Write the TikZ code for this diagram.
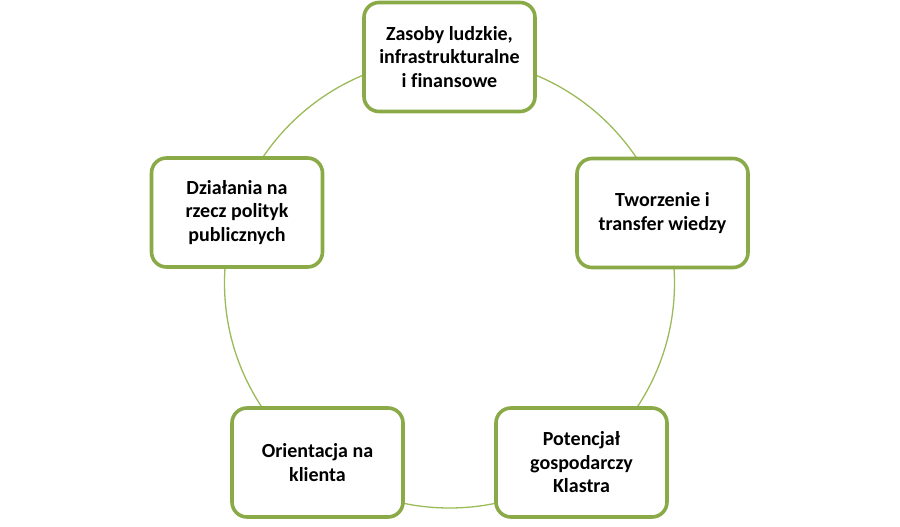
\documentclass[tikz,border=0pt]{standalone}
\usepackage{fontspec}
\setmainfont{Carlito}[Ligatures=NoCommon]
\definecolor{boxgreen}{HTML}{8AAA48}
\definecolor{ringgreen}{HTML}{9BBB59}
\begin{document}
\begin{tikzpicture}[x=1pt,y=-1pt,
  cyclebox/.style={draw=boxgreen, line width=3.6pt, fill=white, rounded corners=15pt,
    minimum width=171pt, minimum height=109pt, align=center,
    font=\fontsize{20}{23.5}\selectfont\bfseries, text=black, inner sep=2pt},
  ring/.style={draw=ringgreen, line width=1.3pt}]
\useasboundingbox (0,0) rectangle (900,527);
\coordinate (c) at (449.5,283);
\draw[ring] (c) circle[radius=225pt];
\node[cyclebox] (a) at (449.5,57) {Zasoby ludzkie,\\infrastrukturalne\\i finansowe};
\node[cyclebox] (b) at (662.5,213) {Tworzenie i\\transfer wiedzy};
\node[cyclebox] (d) at (581.5,462.5) {Potencjał\\gospodarczy\\Klastra};
\node[cyclebox] (e) at (317.5,462.5) {Orientacja na\\klienta};
\node[cyclebox] (f) at (237,212.5) {Działania na\\rzecz polityk\\publicznych};
\end{tikzpicture}
\end{document}
